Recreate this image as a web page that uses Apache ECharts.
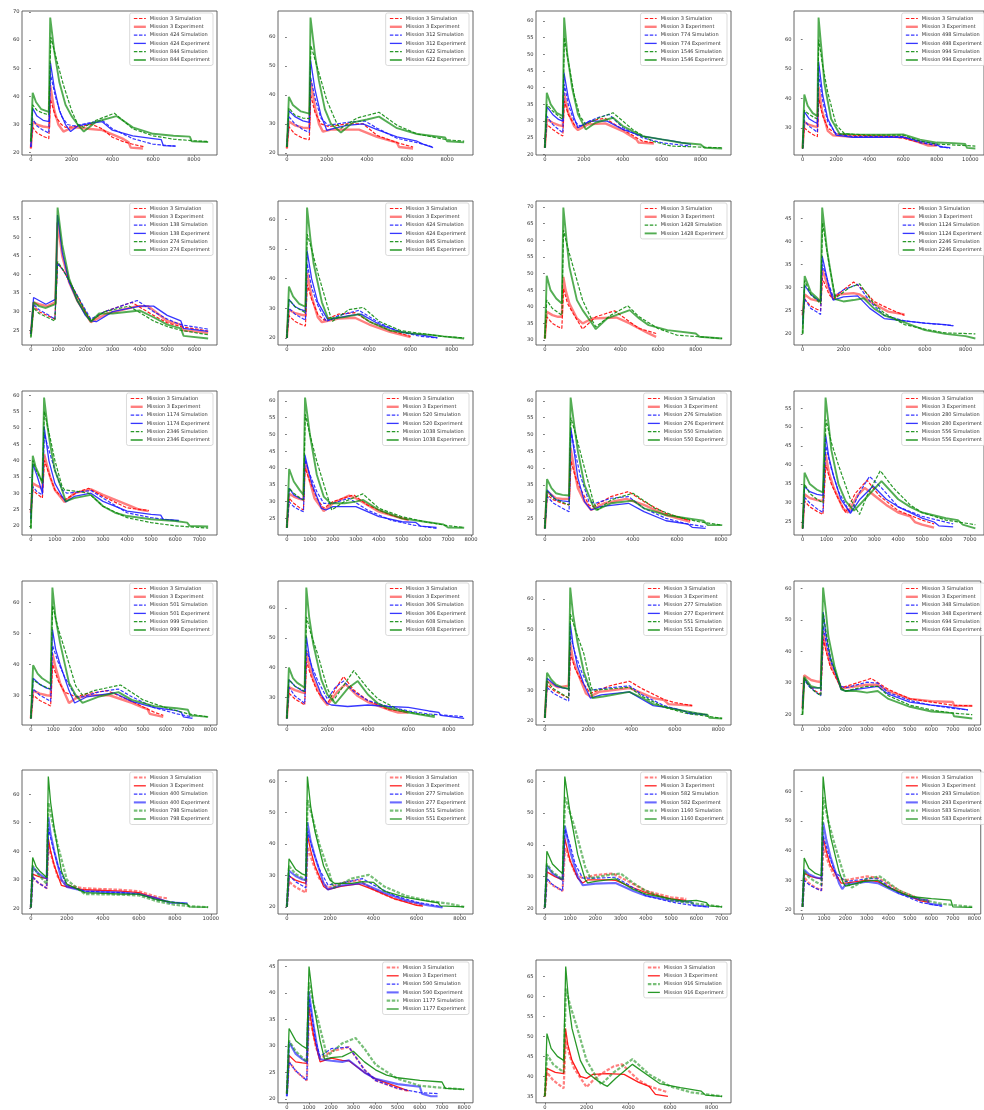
<!DOCTYPE html>
<html>
<head>
<meta charset="utf-8">
<script src="https://cdn.jsdelivr.net/npm/echarts@6/dist/echarts.min.js"></script>
<style>
  html, body { margin: 0; padding: 0; background: #fff; }
  #chart { width: 984px; height: 1110px; }
</style>
</head>
<body>
<div id="chart"></div>
<script>
// ---- Panel 1: missions 3 / 424 / 844 ----
const p01Missions = ['3', '424', '844'];
const p01X = [0, 2000, 4000, 6000, 8000];
const p01Y = [20, 30, 40, 50, 60, 70];
const p01m3s = [[0,21.5],[90,29],[300,27],[600,25.8],[880,25],[960,39],[1200,33],[1500,30],[1700,29],[2500,29.5],[3000,30],[3500,28.5],[4000,25.5],[4500,24],[5000,23],[5600,22]];
const p01m3e = [[0,21.5],[90,31],[300,30],[600,29.3],[900,29],[950,44],[1150,35],[1350,30],[1600,27.5],[1900,28.5],[2200,29],[2800,28.5],[3500,28],[4000,26.5],[4500,25],[4800,23.7],[4900,21.8],[5500,21.5]];
const p01xs = [[0,22],[90,32],[300,29.5],[600,28],[880,27],[960,48],[1200,40],[1500,33],[1800,30],[2100,29.5],[2800,30.5],[3500,31.5],[4000,28.5],[5000,25],[6000,23],[7100,22.3]];
const p01xe = [[0,22],[90,35.8],[300,33],[600,31.5],[900,31],[960,52],[1150,43],[1400,35],[1700,30],[1950,27.5],[2300,29.5],[3000,30.5],[3500,31],[4000,28],[5000,26],[6000,25],[6400,24.6],[6500,22.5],[7100,22.3]];
const p01ys = [[0,24],[90,37],[300,35],[600,34],[880,33.5],[980,61],[1300,52],[1600,44],[2000,35],[2300,30],[2600,29],[3200,31.5],[4100,34],[5000,28.5],[6000,26],[7000,24.8],[8000,24.2],[8700,24]];
const p01ye = [[0,24],[90,41.3],[250,38],[500,35.5],[880,34.5],[950,68],[1150,56],[1400,45],[1700,37],[2000,33],[2300,30],[2600,27.5],[3200,31],[4200,33],[5000,29],[6000,26.7],[7000,26],[7800,25.7],[7900,24],[8700,23.8]];

// ---- Panel 2: missions 3 / 312 / 622 ----
const p02Missions = ['3', '312', '622'];
const p02X = [0, 2000, 4000, 6000, 8000];
const p02Y = [20, 30, 40, 50, 60];
const p02m3s = [[0,21.5],[100,29],[400,26.5],[800,25],[1120,24.5],[1190,40],[1400,34],[1700,30],[2100,29],[3000,30],[3800,30],[4500,26],[5500,23.5],[6300,22]];
const p02m3e = [[0,21.5],[100,30.8],[400,29.5],[800,28.7],[1120,28.5],[1180,45],[1400,36],[1600,30],[1800,27.3],[2200,28],[3000,28],[3600,28],[4500,25.5],[5500,23.5],[5600,22],[6300,21.5]];
const p02xs = [[0,22],[100,32.5],[400,30],[800,28],[1120,27],[1190,46],[1400,39],[1700,32],[2050,29.5],[3000,30.5],[3900,31],[4500,28.5],[5500,25],[6500,23.5],[7300,22]];
const p02xe = [[0,22],[100,34.5],[400,32.5],[800,31],[1120,30.5],[1180,52],[1400,42],[1700,33],[2000,27.7],[2400,28.5],[3000,29.5],[3800,30],[4500,28],[5500,25.5],[6500,24],[6800,23],[7300,21.8]];
const p02ys = [[0,22],[100,35.5],[400,33],[800,32],[1120,31.8],[1200,57],[1500,50],[2000,38],[2500,30],[2700,28.5],[3500,32],[4600,34],[5500,29.5],[6500,26.5],[8000,24.5],[8850,24]];
const p02ye = [[0,22],[100,39.3],[300,36.5],[700,34.3],[1120,33.5],[1180,66.7],[1400,54],[1600,45],[1900,35],[2200,30],[2700,27],[3300,30.5],[4000,31.5],[4600,32.5],[5500,28.5],[6500,26.5],[7900,25.3],[8000,24],[8850,23.6]];

// ---- Panel 3: missions 3 / 774 / 1546 ----
const p03Missions = ['3', '774', '1546'];
const p03X = [0, 2000, 4000, 6000, 8000];
const p03Y = [20, 25, 30, 35, 40, 45, 50, 55, 60];
const p03m3s = [[0,22],[100,29],[400,27.5],[700,26.3],[920,25.5],[1000,36],[1200,32],[1500,29],[1700,28],[2200,29.5],[2700,30.5],[3100,30.8],[4000,27.5],[5000,24],[5600,23.5]];
const p03m3e = [[0,22],[100,30.5],[400,29.5],[700,28.8],[920,28.5],[980,38.5],[1200,32.5],[1500,28.5],[1700,27.3],[2200,29],[3100,29.3],[4000,27],[4700,24.5],[4800,23.6],[5600,23.3]];
const p03xs = [[0,22],[100,31.5],[400,29],[700,27.5],[920,26.5],[1000,41],[1200,35],[1500,30],[1800,28.5],[2300,30],[2700,31],[3300,32],[4000,28],[5000,25],[6000,23.5],[7500,22.5]];
const p03xe = [[0,22],[100,34.3],[400,32],[700,30.5],[920,30],[980,44.5],[1200,37],[1500,31],[1700,28],[2300,30],[3200,30],[4000,27.5],[5000,25.5],[6000,24.5],[6600,24],[7500,23]];
const p03ys = [[0,22],[100,35],[400,33],[700,31.5],[920,30.5],[1000,55],[1200,48],[1500,38],[1800,31.5],[2100,29],[2800,31],[3500,32.5],[4500,27.5],[5500,24],[6500,22.5],[9100,22]];
const p03ye = [[0,22],[100,38.5],[300,35],[600,32.5],[920,31.5],[990,61],[1150,50],[1400,40],[1700,32],[2100,27.5],[2600,29.5],[3500,31],[4000,28.5],[5000,25.5],[6000,24.5],[7000,23.5],[8000,23],[8200,22],[9100,21.8]];

// ---- Panel 4: missions 3 / 498 / 994 ----
const p04Missions = ['3', '498', '994'];
const p04X = [0, 2000, 4000, 6000, 8000, 10000];
const p04Y = [30, 40, 50, 60];
const p04m3s = [[0,23],[100,30],[400,28.5],[700,27.5],[880,27],[960,40],[1200,34],[1500,30],[2000,28],[3000,27.5],[5000,27.2],[6000,26.5],[7000,25],[8000,24]];
const p04m3e = [[0,23],[100,32],[400,31],[700,30.5],[880,30.3],[950,44],[1150,36],[1500,29],[1800,27.5],[3000,27],[5500,27],[6000,26.8],[7000,25],[7500,24],[8000,24]];
const p04xs = [[0,23],[100,32.5],[400,30.5],[700,29.3],[880,28.5],[960,48],[1200,39],[1500,32],[2000,28],[3000,27],[6000,27],[7000,25],[8000,24],[8800,23]];
const p04xe = [[0,23],[100,35.5],[400,33],[700,32],[880,31.5],[950,52.5],[1200,41],[1500,33],[2000,27.5],[3000,26.8],[6000,26.8],[7000,25.5],[8000,24.5],[8200,23.5],[8800,23.3]];
const p04ys = [[0,23],[100,36],[400,34.5],[700,33.5],[880,33],[960,60],[1200,51],[1500,42],[2000,31],[2500,28],[4000,27.5],[6000,27.5],[7000,25.5],[8000,24.5],[10300,23.8]];
const p04ye = [[0,23],[100,41.3],[300,37.5],[600,35],[880,34],[950,67.5],[1150,55],[1300,45],[1700,33],[2200,28],[3000,27.8],[5000,27.7],[6000,27.8],[7000,26],[8000,25],[9000,24.8],[9700,24.5],[9800,23.2],[10300,23]];

// ---- Panel 5: missions 3 / 138 / 274 ----
const p05Missions = ['3', '138', '274'];
const p05X = [0, 1000, 2000, 3000, 4000, 5000, 6000];
const p05Y = [25, 30, 35, 40, 45, 50, 55];
const p05m3s = [[0,24],[100,31.5],[300,30],[600,29],[880,28],[980,43],[1200,41],[1500,37],[2000,30],[2200,27.5],[2700,30],[3700,32.5],[4500,29],[5000,27],[5500,26],[6500,24.8]];
const p05m3e = [[0,24],[100,32.5],[300,32],[600,31.5],[900,32.5],[980,54],[1150,45],[1400,38],[1700,33],[2000,29.5],[2200,27.2],[2800,29.5],[3900,31.5],[4300,31.5],[5000,27.5],[5500,26.5],[5600,25],[6500,24.3]];
const p05xs = [[0,24],[100,32],[300,30.5],[600,29.3],[880,28],[980,43],[1200,41],[1500,37],[2000,30.5],[2200,28],[2700,30],[3900,33],[4500,30],[5000,28],[5500,26.5],[6500,25.3]];
const p05xe = [[0,24],[100,33.8],[300,33],[550,32],[900,33.3],[980,56],[1150,46],[1400,38],[1700,33],[2000,29],[2200,27.5],[2400,27.3],[3000,30],[4000,31.5],[4500,31.5],[5000,29],[5500,27.5],[5600,25.5],[6500,24.7]];
const p05ys = [[0,23],[100,31],[300,29.5],[600,28.5],[880,27.5],[980,43.5],[1200,41],[1500,37],[2000,30],[2200,27.5],[2700,30],[3600,31.5],[4500,27.5],[5000,26],[5500,25],[6500,23.8]];
const p05ye = [[0,23.3],[100,32.5],[300,31.5],[550,31],[900,32],[980,58],[1150,48],[1400,39],[1700,33],[2000,29.5],[2200,27.3],[2500,29.5],[3000,29.5],[4000,30.3],[4500,28.5],[5000,26.5],[5500,25.5],[5600,23.5],[6500,22.8]];

// ---- Panel 6: missions 3 / 424 / 845 ----
const p06Missions = ['3', '424', '845'];
const p06X = [0, 2000, 4000, 6000, 8000];
const p06Y = [20, 30, 40, 50, 60];
const p06m3s = [[0,20],[100,27.5],[400,25.5],[700,24.5],[900,24],[990,38],[1200,33],[1500,28],[1800,26],[2500,28],[3300,28.5],[4000,25.5],[5000,22.5],[6000,20.5]];
const p06m3e = [[0,20],[100,29.5],[400,28.3],[700,27.8],[900,27.5],[980,42],[1200,34],[1500,27],[1700,25.3],[2500,26.5],[3300,26.8],[4000,24.5],[5000,22],[6000,20.3]];
const p06xs = [[0,20],[100,30],[400,28],[700,26.8],[900,26],[990,45],[1200,37],[1500,31],[1900,25.5],[2500,27.5],[3500,29.3],[4500,25],[5500,22],[6500,20.5],[7300,20]];
const p06xe = [[0,20],[100,33],[400,30.5],[700,29.5],[900,29],[980,49.5],[1200,40],[1500,32],[2000,26],[2300,26.5],[3000,27.5],[3600,28],[4500,24.5],[5500,22],[6500,21],[7300,20]];
const p06ys = [[0,20],[100,33],[400,30.5],[700,29.3],[900,28.5],[990,55],[1200,50],[1500,42],[2000,30],[2200,25.5],[3000,29.5],[3700,30.3],[4500,25.5],[5500,22.5],[6500,21.5],[7500,20.5],[8600,20]];
const p06ye = [[0,20],[100,37.3],[300,34],[600,31.5],[900,30.5],[980,64],[1150,53],[1300,45],[1700,32],[2000,26.5],[2800,27],[3500,28],[4000,25.5],[5000,22.5],[6000,21.5],[7000,21],[7600,20.5],[8600,19.8]];

// ---- Panel 7: missions 3 / 1428 ----
const p07Missions = ['3', '1428'];
const p07X = [0, 2000, 4000, 6000, 8000];
const p07Y = [30, 35, 40, 45, 50, 55, 60, 65, 70];
const p07m3s = [[0,30.5],[100,37],[400,35],[700,34],[900,33.5],[990,45.5],[1200,41],[1500,38],[2000,33.3],[2700,37],[3700,38.8],[4500,35.5],[5000,33.5],[5900,32]];
const p07m3e = [[0,30.5],[100,38.5],[400,37.5],[700,37],[900,37],[980,49],[1100,45],[1300,41],[1700,36.5],[2000,35],[2500,36.5],[3800,36.8],[4500,35],[5000,33.5],[5500,32],[5900,31]];
const p07ys = [[0,30.5],[100,42],[400,39.5],[700,38.3],[900,37.5],[990,63],[1200,58],[1500,52],[2000,42],[2500,36],[2700,34],[3500,37.5],[4400,40.3],[5000,37],[6000,33.5],[7000,31.5],[9400,30.5]];
const p07ye = [[0,30.5],[100,49.3],[300,45],[600,42.5],[900,41],[980,69.8],[1150,60],[1300,52],[1700,42],[2000,39],[2500,35],[2700,33.3],[3300,36.5],[4500,39],[5000,36.5],[5500,34.5],[6500,33],[8000,32],[8200,31],[9400,30.5]];

// ---- Panel 8: missions 3 / 1124 / 2246 ----
const p08Missions = ['3', '1124', '2246'];
const p08X = [0, 2000, 4000, 6000, 8000];
const p08Y = [20, 25, 30, 35, 40, 45];
const p08m3s = [[0,24],[100,27.5],[400,26],[700,25.3],[880,25],[970,32],[1300,28.5],[1500,27.5],[2000,29.5],[2500,31.2],[3000,29.5],[3500,27],[4200,25.5],[5000,24]];
const p08m3e = [[0,24],[100,28.5],[400,27.5],[700,27.2],[880,27],[960,34],[1300,29.5],[1500,27.5],[1700,28.5],[2500,28.8],[2800,28.5],[3500,26.5],[4200,24.8],[5000,24.2]];
const p08xs = [[0,22],[100,27.5],[400,25.5],[700,24.7],[880,24.2],[970,35],[1300,30.5],[1500,28],[2000,29.5],[2700,30.7],[3300,27],[4000,24],[5000,22.8],[6000,22.3],[7400,21.8]];
const p08xe = [[0,22],[100,30.5],[400,28.5],[700,27.5],[880,27],[960,36.8],[1300,30],[1500,27.3],[2000,28],[2700,28.2],[3300,25.5],[4000,23.3],[5000,22.8],[6000,22.3],[7000,22],[7400,21.7]];
const p08ys = [[0,20],[100,31.5],[400,28.5],[700,27.3],[880,26.5],[980,44],[1300,35],[1600,28],[1700,28],[2300,30],[2800,30.8],[3500,26.5],[4000,24.5],[5000,22],[6000,21],[7000,20.2],[8480,20]];
const p08ye = [[0,20],[100,32.5],[400,29],[700,27.8],[880,27],[960,47.3],[1200,38],[1500,30],[1600,27.5],[2000,27],[2500,27.3],[3000,27.7],[3500,25.5],[4000,24],[5000,22.5],[6000,20.8],[7000,20],[8000,19.5],[8480,19]];

// ---- Panel 9: missions 3 / 1174 / 2346 ----
const p09Missions = ['3', '1174', '2346'];
const p09X = [0, 1000, 2000, 3000, 4000, 5000, 6000, 7000];
const p09Y = [20, 25, 30, 35, 40, 45, 50, 55, 60];
const p09m3s = [[0,24],[80,31],[250,29.8],[480,28.5],[560,40],[800,35],[1000,31],[1400,28],[2000,30.5],[2400,31.5],[3000,29],[4000,25.5],[4900,24.7]];
const p09m3e = [[0,24],[80,33],[250,32.3],[480,31.5],[550,42],[800,35],[1000,31],[1400,27.3],[1800,30],[2500,31.2],[3000,29.5],[4000,26.5],[4500,25],[4900,24.5]];
const p09xs = [[0,22],[80,32],[250,30.5],[480,29.5],[560,48],[800,42],[1000,37],[1300,31],[1500,30],[2500,30.8],[3000,28.5],[4000,24],[5000,22.5],[6150,21.5]];
const p09xe = [[0,22],[80,39],[250,35.5],[480,30],[550,50.5],[750,40],[1000,33],[1300,29],[1450,27.3],[1800,29],[2500,30],[3000,27.5],[4000,24.5],[5000,23.5],[5400,23.3],[5500,22],[6150,21.7]];
const p09ys = [[0,19.2],[80,40],[250,36.5],[480,33.5],[560,55],[800,47],[1000,40],[1300,32],[1400,31],[2000,30.5],[2400,30],[3000,26],[4000,22.5],[5000,21],[6000,20],[7370,19.3]];
const p09ye = [[0,19.2],[80,41.5],[200,38],[350,35.5],[480,33],[550,59.3],[700,50],[800,45],[1000,37],[1300,31],[1450,27.5],[1800,28.5],[2500,29.5],[3000,26],[3500,24],[4000,23],[5000,22],[6000,21.5],[6500,21],[6600,20],[7370,19.8]];

// ---- Panel 10: missions 3 / 520 / 1038 ----
const p10Missions = ['3', '520', '1038'];
const p10X = [0, 1000, 2000, 3000, 4000, 5000, 6000, 7000, 8000];
const p10Y = [20, 25, 30, 35, 40, 45, 50, 55, 60];
const p10m3s = [[0,22.2],[100,31],[300,29.5],[550,28.2],[720,27.5],[790,40],[1000,36],[1300,31],[1600,28],[2000,30],[2900,32],[3500,29],[4500,26],[5300,24.5]];
const p10m3e = [[0,22.2],[100,32.3],[300,31.5],[550,30.8],[720,30.5],[780,42],[1000,36],[1200,31],[1600,27.2],[2000,29.5],[2700,31.8],[3000,31],[4000,27],[5000,25],[5300,24.5]];
const p10xs = [[0,22.2],[100,30],[300,28.5],[550,27.5],[720,27],[790,42.5],[1000,38],[1300,33],[1600,29.5],[2000,29.5],[2700,31],[3500,27.5],[4500,24.5],[5500,23],[6500,22]];
const p10xe = [[0,22.2],[100,34],[300,32],[550,31],[720,30.5],[780,44],[950,39],[1100,35],[1500,28],[1700,27.5],[2000,28.5],[3000,28.5],[3500,27],[4000,25.5],[5000,24],[5600,23.8],[5800,22.7],[6500,22.3]];
const p10ys = [[0,22.2],[100,34],[300,32.5],[550,31.2],[720,30.5],[800,56],[1000,50],[1300,42],[1700,33],[1950,27.5],[2500,30],[3300,32.3],[4000,28],[5000,25.5],[6000,24],[7000,22.8],[7700,22.3]];
const p10ye = [[0,22.2],[100,39.7],[300,36],[550,33.5],[720,32],[790,61],[1000,50],[1300,38],[1600,31.5],[1900,29.5],[2500,29.5],[3000,30],[3300,30.5],[4000,27.5],[5000,25],[6000,24],[6800,23.2],[7000,22.3],[7700,22.2]];

// ---- Panel 11: missions 3 / 276 / 550 ----
const p11Missions = ['3', '276', '550'];
const p11X = [0, 2000, 4000, 6000, 8000];
const p11Y = [20, 25, 30, 35, 40, 45, 50, 55, 60];
const p11m3s = [[0,22],[100,32],[400,30.5],[800,29.5],[1100,29],[1190,42],[1400,37],[1600,34],[2000,29],[2200,28.5],[3000,31.5],[3800,33],[4500,30],[5500,26.5],[6600,24.3]];
const p11m3e = [[0,22],[100,33],[500,31],[800,30.8],[1100,30.8],[1170,46],[1350,39],[1500,34],[1800,30],[2100,27.5],[2700,29.5],[3700,30.8],[4500,29],[5500,26],[6600,24]];
const p11xs = [[0,22],[100,31.5],[400,29.5],[800,28],[1100,27],[1190,51],[1400,44],[1600,38],[2000,30],[2300,29.5],[3000,31],[3800,31.5],[4500,28],[5500,25],[6500,23.3],[7300,22.5]];
const p11xe = [[0,22],[100,33.5],[500,30.5],[800,30.2],[1100,30],[1180,52],[1350,44],[1500,37],[1800,30],[2100,27.5],[2500,28.5],[3800,29.5],[4500,27],[5500,24.3],[6500,23.3],[6700,22.3],[7300,22]];
const p11ys = [[0,22],[100,33],[400,31],[800,29.8],[1100,29],[1180,55],[1400,50],[1800,40],[2200,30],[2400,27.5],[3000,30.5],[4000,32.5],[5000,28],[6000,25.5],[7000,24],[8050,23]];
const p11ye = [[0,22],[100,36.7],[300,34],[500,32.5],[800,32],[1100,31.8],[1170,61],[1350,52],[1500,45],[1800,35],[2200,28.5],[2350,27.5],[3000,29.5],[4000,30.3],[4500,28],[5500,26],[6500,25],[7200,24.3],[7400,23],[8050,23]];

// ---- Panel 12: missions 3 / 280 / 556 ----
const p12Missions = ['3', '280', '556'];
const p12X = [0, 1000, 2000, 3000, 4000, 5000, 6000, 7000];
const p12Y = [25, 30, 35, 40, 45, 50, 55];
const p12m3s = [[0,23.3],[80,30.5],[300,29],[600,27.8],[850,27],[970,40],[1200,35],[1500,31],[1800,27.5],[2200,32.5],[2700,36],[3200,32],[4000,28],[5000,25.5],[5500,24.5]];
const p12m3e = [[0,23.3],[80,32.3],[300,31.3],[600,30.8],[850,30.5],[960,43],[1100,38],[1300,34],[1700,28.5],[1900,27.5],[2300,32],[2600,34],[3000,32],[3500,29.5],[4000,27.5],[4500,26.5],[4700,25],[5000,24.3],[5500,23.5]];
const p12xs = [[0,23.3],[80,31.5],[300,30],[600,28.5],[850,27.5],[970,45],[1200,39],[1500,33],[1900,28.5],[2000,27.5],[2400,33],[2800,37],[3300,34],[4000,29],[5000,26.5],[6300,24.5]];
const p12xe = [[0,23.3],[80,34.3],[300,33],[600,32.3],[850,32],[960,48],[1100,42],[1300,37],[1600,31],[2000,27.3],[2400,31],[2950,34.5],[3500,31],[4000,29],[5000,26],[5500,25],[5700,24],[6300,23.7]];
const p12ys = [[0,23.3],[80,35],[300,32.5],[600,31],[850,30],[980,52],[1200,46],[1500,40],[2000,31],[2380,27],[2700,32],[3250,38.5],[3800,34],[4500,29.5],[5000,27.5],[6000,25.5],[7230,24.3]];
const p12ye = [[0,23.3],[80,38],[300,35],[600,33.5],[850,32.8],[960,57.8],[1100,50],[1200,44],[1500,35],[1800,30.5],[2150,28],[2600,31],[3300,35.8],[4000,31],[4500,29],[5000,27.5],[6000,26],[6500,25.5],[6700,24.3],[7230,23.3]];

// ---- Panel 13: missions 3 / 501 / 999 ----
const p13Missions = ['3', '501', '999'];
const p13X = [0, 1000, 2000, 3000, 4000, 5000, 6000, 7000, 8000];
const p13Y = [30, 40, 50, 60];
const p13m3s = [[0,22.5],[100,30],[400,28.3],[700,27.2],[880,26.5],[970,40],[1200,35],[1500,31],[2000,29.5],[2500,30.5],[3400,31.5],[4500,28],[5500,24.5],[5900,23.5]];
const p13m3e = [[0,22.5],[100,31.5],[400,30.5],[700,30],[880,29.8],[960,43.5],[1100,39],[1300,34],[1700,27.5],[2000,29],[2600,30],[3500,30],[4500,27.5],[5000,26],[5200,25.5],[5300,24],[5900,23]];
const p13xs = [[0,22.5],[100,32],[400,30],[700,28.8],[880,28],[970,46],[1200,41],[1500,36],[2000,29.5],[2300,29.5],[3000,31],[3900,32],[4500,29.5],[5500,26],[6500,24],[7200,23]];
const p13xe = [[0,22.5],[100,35.5],[400,33.5],[700,32.3],[880,32],[960,51.3],[1100,45],[1300,40],[1700,31.5],[1950,27.5],[2500,29.5],[3700,30.8],[4500,28],[5500,26],[6500,25],[6700,24.5],[6800,23],[7200,22.5]];
const p13ys = [[0,22.5],[100,35],[400,33.5],[700,32.5],[880,32],[970,59],[1200,52],[1500,45],[2000,33],[2300,30],[2800,31.5],[4000,33.3],[5000,28.5],[6000,26],[7000,24],[7900,23]];
const p13ye = [[0,22.5],[100,39.7],[300,37],[500,35.5],[880,33.7],[960,64.8],[1100,55],[1300,47],[1700,34],[2000,30],[2300,27.5],[3000,29.5],[3900,31],[4500,28.5],[5500,26.5],[6500,25.8],[7000,25.3],[7100,23.5],[7900,23]];

// ---- Panel 14: missions 3 / 306 / 608 ----
const p14Missions = ['3', '306', '608'];
const p14X = [0, 2000, 4000, 6000, 8000];
const p14Y = [30, 40, 50, 60];
const p14m3s = [[0,23],[100,31.5],[400,29.5],[700,28.3],[880,27.5],[970,42],[1200,37],[1500,32],[2000,28],[2500,34],[2800,37],[3300,32.5],[4000,29],[5000,26],[6000,25]];
const p14m3e = [[0,23],[100,33.5],[400,32.5],[700,31.8],[880,31.5],[960,45.5],[1100,41],[1300,36],[1700,30],[2000,27.5],[2500,32],[2900,34.5],[3500,30.5],[4000,28.5],[5000,26],[5500,25],[6000,25]];
const p14xs = [[0,23],[100,33.5],[400,30.5],[700,29],[880,28],[970,46],[1200,41],[1500,36],[2000,29.5],[2400,33.5],[2800,35.5],[3300,32],[4000,29],[5000,27],[6000,25.5],[7000,24.5],[8750,23.6]];
const p14xe = [[0,23],[100,36],[400,33.8],[700,32.5],[880,32],[960,50.5],[1100,44],[1300,38],[1700,31],[2000,28],[2200,27.5],[3000,27],[4000,27.5],[5000,27],[6000,26.7],[7000,25.5],[7500,25],[7600,24],[8750,23]];
const p14ys = [[0,23],[100,36],[400,33.8],[700,32.7],[880,32],[970,57],[1200,51],[1500,45],[2000,33],[2300,29],[2900,35],[3300,39],[4000,33],[4500,29.5],[5500,26],[6500,24.5],[7300,24]];
const p14ye = [[0,23],[100,40],[300,36.5],[500,35],[880,33.3],[960,66.8],[1100,57],[1300,48],[1700,36],[2000,31],[2400,28],[3000,33],[3500,35.5],[4000,31],[4500,28],[5000,26.5],[6000,25],[7300,23.5]];

// ---- Panel 15: missions 3 / 277 / 551 ----
const p15Missions = ['3', '277', '551'];
const p15X = [0, 2000, 4000, 6000, 8000];
const p15Y = [20, 30, 40, 50, 60];
const p15m3s = [[0,21],[100,32],[400,30],[800,28.5],[1100,27.5],[1180,42],[1400,37],[1700,33],[2100,29],[3000,31.5],[3900,33],[4500,30.5],[5500,27],[6000,26],[6800,25]];
const p15m3e = [[0,21],[100,33],[600,31],[900,31.3],[1100,31.5],[1170,45.5],[1300,40],[1500,36],[1900,29],[2100,28],[2500,29.5],[3900,30.8],[4500,29],[5000,27.5],[5500,26.8],[5700,25.5],[6800,25]];
const p15xs = [[0,21],[100,31],[400,29],[800,27.5],[1100,26.5],[1180,48],[1400,42],[1700,36],[2100,30],[2500,30.5],[3900,31.5],[4500,28.5],[5500,25],[6500,23],[7500,22]];
const p15xe = [[0,21],[100,34],[500,31.5],[800,30.8],[1100,30.5],[1170,52],[1300,45],[1500,38],[1800,32],[2100,27.5],[2600,28.5],[3900,29.5],[4500,27],[5000,25],[6000,24],[6500,23],[6600,22.5],[7500,22]];
const p15ys = [[0,21],[100,33],[400,30.5],[800,28.8],[1100,27.5],[1180,55],[1400,50],[1800,42],[2100,32],[2200,30],[3000,30.5],[3900,31],[4500,28],[5500,24.5],[6500,22.5],[7500,21.5],[8180,20.8]];
const p15ye = [[0,21],[100,35.8],[300,33.5],[500,32],[800,31],[1100,30.5],[1170,63.7],[1300,55],[1500,46],[1800,36],[2100,30],[2200,27.5],[2700,28],[3900,29.5],[4500,27.5],[5000,25.5],[6000,23.8],[7000,22.5],[7500,22],[7600,21],[8180,20.8]];

// ---- Panel 16: missions 3 / 348 / 694 ----
const p16Missions = ['3', '348', '694'];
const p16X = [0, 1000, 2000, 3000, 4000, 5000, 6000, 7000, 8000];
const p16Y = [20, 30, 40, 50, 60];
const p16m3s = [[0,22],[80,31.5],[300,29.5],[600,27.5],[850,26.5],[970,44],[1100,40],[1300,35],[1800,28.5],[2500,30],[3200,31.5],[4000,28],[5000,25],[6000,24],[7000,23],[7900,22.8]];
const p16m3e = [[0,22],[80,32.5],[400,31],[700,30.5],[850,30.3],[960,46.5],[1100,41],[1300,36],[1800,28.5],[2000,28.5],[3000,29.5],[3500,29.5],[4000,27.5],[5000,25],[6000,24.3],[7000,24],[7050,22.8],[7900,22.8]];
const p16xs = [[0,22],[80,31],[300,29],[600,27.2],[850,26],[970,48],[1100,43],[1300,37],[1800,29],[2000,28.5],[3000,30.3],[3500,30],[4000,27],[5000,24.5],[6000,23],[7000,22],[7700,21.5]];
const p16xe = [[0,22],[80,31.5],[400,28.5],[700,28.5],[850,28.5],[960,52.5],[1100,45],[1300,38],[1800,28],[2000,27.5],[2500,28],[3000,28.5],[3500,29],[4000,26.5],[5000,24],[6000,23],[6800,22.5],[6850,22],[7700,21.5]];
const p16ys = [[0,20],[80,31.5],[300,29],[600,27.2],[850,26],[970,52],[1100,46],[1300,38],[1800,28.5],[2000,27.5],[3000,29],[3500,29],[4000,26],[5000,23],[6000,21.5],[7000,20.5],[7900,20]];
const p16ye = [[0,20],[80,32],[400,29],[700,28.5],[850,28.5],[960,60.3],[1100,52],[1200,45],[1500,35],[1800,28],[2000,27.5],[2500,27.5],[3000,27],[3500,27.5],[4000,25],[5000,22.5],[6000,21],[7000,20.5],[7050,19.5],[7900,18.8]];

// ---- Panel 17: missions 3 / 400 / 798 ----
const p17Missions = ['3', '400', '798'];
const p17X = [0, 2000, 4000, 6000, 8000, 10000];
const p17Y = [20, 30, 40, 50, 60];
const p17m3s = [[0,20.3],[100,31],[400,29],[700,27.8],[880,27],[980,42],[1200,37],[1500,31],[2000,28],[3000,27],[5000,26.5],[6000,26],[7000,24],[7600,23.5]];
const p17m3e = [[0,20.3],[100,32],[400,31.2],[700,30.7],[880,30.5],[970,44.5],[1100,40],[1300,35],[1700,28],[2000,27.5],[3000,26.5],[5000,26],[6000,25.5],[7000,23.5],[7500,22.5]];
const p17xs = [[0,20.3],[100,31],[400,29],[700,27.8],[880,27],[980,48],[1200,42],[1500,35],[2000,28],[3000,26],[5000,25.5],[6000,25],[7000,23],[8700,21.5]];
const p17xe = [[0,20.3],[100,34.5],[400,32.3],[700,31],[880,30.5],[970,52],[1100,46],[1300,40],[1700,30],[2000,27.5],[3000,26],[5000,25.5],[6000,25],[7000,23.5],[7700,22],[8700,21.8]];
const p17ys = [[0,20.3],[100,35],[400,32],[700,29.8],[880,28.5],[980,57],[1200,50],[1500,42],[2000,30],[2500,27.5],[3000,25],[5000,24.8],[6000,24.5],[7000,22.5],[8000,21.2],[9000,20.7],[9850,20.4]];
const p17ye = [[0,20.3],[100,37.8],[300,34.5],[500,33],[880,30.8],[970,66.2],[1100,57],[1300,48],[1700,33],[2000,28.5],[2500,27],[3000,25.5],[5000,25],[6000,25],[6500,24],[7000,23],[8000,22],[8700,21.5],[8800,20.5],[9850,20.4]];

// ---- Panel 18: missions 3 / 277 / 551 ----
const p18Missions = ['3', '277', '551'];
const p18X = [0, 2000, 4000, 6000, 8000];
const p18Y = [20, 30, 40, 50, 60];
const p18m3s = [[0,20],[100,28],[400,26.3],[700,25.2],[880,24.5],[960,39],[1200,34],[1500,29],[1900,26],[2500,27.5],[3300,28.5],[4000,25.5],[5000,22.5],[6300,20.5]];
const p18m3e = [[0,20],[100,29.8],[400,28.5],[700,27.8],[880,27.5],[950,43],[1100,38],[1300,33],[1700,26.5],[1900,25.5],[2500,26.5],[3300,27.3],[4000,25.5],[5000,22.5],[6000,20.5],[6300,20.2]];
const p18xs = [[0,20],[100,30],[400,28],[700,26.8],[880,26],[960,44],[1200,38],[1500,32],[1900,27],[2500,27.5],[3500,29],[4000,27],[5000,23.5],[6000,21.5],[7200,20]];
const p18xe = [[0,20],[100,31.5],[400,29.8],[700,28.8],[880,28.5],[950,47],[1100,41],[1300,36],[1700,27.5],[1900,25.5],[2500,26.8],[3500,27.5],[4500,24.5],[5500,22],[6500,20.5],[7200,19.8]];
const p18ys = [[0,20],[100,33],[400,30.5],[700,29.3],[880,28.5],[960,54],[1200,48],[1500,40],[2000,30],[2150,26],[3000,29],[3800,30.2],[4500,26.5],[5500,23.5],[6500,22],[7500,21],[8200,20]];
const p18ye = [[0,20],[100,35.3],[400,32],[700,30.5],[880,30],[950,61.5],[1100,52],[1300,44],[1700,33],[2000,28.5],[2200,27.5],[3000,27.5],[3500,28],[4000,27.8],[4500,25],[5500,23],[6500,21.8],[7000,21.3],[7100,20.3],[8200,20]];

// ---- Panel 19: missions 3 / 582 / 1160 ----
const p19Missions = ['3', '582', '1160'];
const p19X = [0, 1000, 2000, 3000, 4000, 5000, 6000, 7000];
const p19Y = [20, 30, 40, 50, 60];
const p19m3s = [[0,20.3],[80,29],[300,27.3],[550,26.2],[700,25.5],[800,39],[1000,35],[1200,31],[1500,29.5],[2000,30.5],[2700,31],[3300,28.5],[4000,25.5],[5000,23.5],[5600,23]];
const p19m3e = [[0,20.3],[80,31.5],[400,30],[700,29],[790,42],[1000,35],[1300,29.5],[1500,28],[1700,29],[2500,29],[2800,28.8],[3500,26.5],[4000,25],[5000,23],[5600,22.5]];
const p19xs = [[0,20.3],[80,29.5],[300,27.5],[550,26.3],[700,25.5],[800,45],[1000,40],[1200,34],[1500,29.5],[2000,29.5],[2800,29.8],[3300,27.5],[4000,24],[5000,22],[6000,20.8],[6500,20.5]];
const p19xe = [[0,20.3],[80,33.5],[300,31],[550,29.7],[700,29],[790,46],[1000,38],[1300,30],[1500,27.3],[2000,27.8],[2800,28],[3500,25.5],[4000,24],[5000,22.5],[5800,22],[5900,21],[6500,20.5]];
const p19ys = [[0,20.3],[80,34],[300,31.5],[550,30],[700,29],[800,55],[1000,50],[1200,45],[1600,33],[1800,29.5],[2500,30.5],[3000,31],[3500,28],[4000,25.5],[5000,22.5],[6000,21.5],[7020,20.5]];
const p19ye = [[0,20.3],[80,38],[300,34],[550,32],[700,31],[790,61.5],[1000,50],[1300,37],[1600,29],[1700,28],[2000,28.5],[2800,29.3],[3500,26],[4000,24.5],[5000,23],[5500,22.3],[6000,22.5],[6400,21.8],[6500,20.8],[7020,20.5]];

// ---- Panel 20: missions 3 / 293 / 583 ----
const p20Missions = ['3', '293', '583'];
const p20X = [0, 1000, 2000, 3000, 4000, 5000, 6000, 7000, 8000];
const p20Y = [20, 30, 40, 50, 60];
const p20m3s = [[0,21],[80,31],[300,29],[600,27.5],[880,26.5],[970,41],[1200,36],[1500,31],[2000,30],[3000,31.3],[3500,30.8],[4500,26.5],[5500,23.5],[5900,23]];
const p20m3e = [[0,21],[80,32.3],[400,31.2],[700,30.7],[880,30.5],[960,44.5],[1100,40],[1300,35],[1800,29],[2000,29],[3000,30],[3500,29.5],[4500,26],[5500,23],[5900,22.5]];
const p20xs = [[0,21],[80,30],[300,28.5],[600,27.3],[880,26.5],[970,45],[1200,39],[1500,33],[2000,29.5],[3000,30.5],[3500,30.5],[4500,25.5],[5500,22.5],[6500,21.2]];
const p20xe = [[0,21],[80,33.5],[300,32],[600,31],[880,30.5],[960,49.5],[1100,44],[1300,38],[1700,29],[1850,27],[2000,28.5],[3000,29.5],[3500,29],[4500,25.5],[5500,23.5],[5800,23.3],[5900,22],[6500,21.5]];
const p20ys = [[0,21],[80,33],[300,31],[600,29.5],[880,28.5],[970,58],[1200,50],[1500,42],[2000,30],[2300,27.5],[3000,30.5],[3600,31.3],[4500,26.5],[5500,23.5],[6500,22],[7900,21]];
const p20ye = [[0,21],[80,37.5],[300,34],[600,32.3],[880,31.5],[960,65],[1100,55],[1300,45],[1700,33],[1900,29],[2000,28],[2200,28.3],[2800,29.5],[3500,30],[4000,27.5],[5000,24.5],[6000,23.8],[6900,23.3],[7000,21],[7900,20.8]];

// ---- Panel 21: missions 3 / 590 / 1177 ----
const p21Missions = ['3', '590', '1177'];
const p21X = [0, 1000, 2000, 3000, 4000, 5000, 6000, 7000, 8000];
const p21Y = [20, 25, 30, 35, 40, 45];
const p21m3s = [[0,21],[100,27],[400,25.3],[700,24.2],[900,23.5],[1000,36],[1300,30],[1500,27.5],[2000,29],[2800,29.8],[3500,25.5],[4000,23.5],[5000,22],[5500,21.5]];
const p21m3e = [[0,21],[100,28.2],[400,27],[700,26.8],[900,26.7],[990,37.5],[1200,32],[1500,27],[2000,27.7],[2500,27.3],[2800,27.2],[3500,25],[4000,23.8],[5000,22.3],[5500,21.5]];
const p21xs = [[0,20.5],[100,27],[400,25.3],[700,24.2],[900,23.5],[1000,39],[1300,31],[1500,28],[2000,29.5],[2800,29.8],[3500,25.5],[4000,23.5],[5000,22],[6000,21.2],[6800,21]];
const p21xe = [[0,20.5],[100,30.7],[400,28.5],[700,27.5],[900,27],[990,40.3],[1200,34],[1400,29],[1500,27.5],[2000,27.2],[2500,27],[2800,27.3],[3500,25],[4000,23.8],[5000,22.8],[6000,22.3],[6100,21],[6500,20.5],[6800,20.5]];
const p21ys = [[0,21],[100,31],[400,29],[700,27.8],[900,27],[1000,42],[1200,38],[1400,35],[1700,30],[1800,28],[2500,30.5],[3100,31.5],[3500,29.5],[4000,26.5],[5000,23.8],[6000,22.5],[7000,22.1],[8000,21.8]];
const p21ye = [[0,21],[100,33.3],[400,31],[700,30],[900,29.5],[1000,45],[1200,38],[1500,31],[1700,27.5],[2000,27.8],[2500,28],[3000,29],[3500,27],[4000,25.5],[4500,24.5],[5000,24],[6000,23.5],[7000,23.2],[7150,22],[8000,21.8]];

// ---- Panel 22: missions 3 / 916 ----
const p22Missions = ['3', '916'];
const p22X = [0, 2000, 4000, 6000, 8000];
const p22Y = [35, 40, 45, 50, 55, 60, 65];
const p22m3s = [[0,35],[100,41],[400,39],[700,37.8],[900,37],[1000,49],[1200,45],[1400,42],[2000,37.3],[2500,40],[3300,42.5],[3700,43],[4500,39],[5000,37.5],[5900,36]];
const p22m3e = [[0,35],[100,42],[500,41],[900,40.7],[990,52],[1100,48],[1300,44],[1700,40],[2000,39.5],[2300,40.5],[3000,40.7],[3800,40.5],[4500,38.5],[5000,37.5],[5300,35.5],[5900,35]];
const p22ys = [[0,35],[100,45.5],[400,43],[700,41.8],[900,41],[1010,62],[1200,58],[1500,53],[2000,44],[2500,39.5],[2700,38],[3300,41],[4200,44.3],[5000,40.5],[6000,37.5],[7000,36],[8500,35]];
const p22ye = [[0,35],[100,50.7],[300,47],[600,45],[900,44],[1000,67.5],[1150,58],[1300,52],[1700,44],[2000,41],[2500,39],[2800,38],[3000,37.5],[3400,39.5],[4200,43],[5000,40],[5500,38.2],[6500,37.2],[7500,36.3],[7700,35.3],[8500,35]];

// Panel list: grid cell [row, col], missions, ticks and curves (sim/exp pairs per mission)
const panels = [
  { cell: [0, 0], missions: p01Missions, xTicks: p01X, yTicks: p01Y, curves: [p01m3s, p01m3e, p01xs, p01xe, p01ys, p01ye] },
  { cell: [0, 1], missions: p02Missions, xTicks: p02X, yTicks: p02Y, curves: [p02m3s, p02m3e, p02xs, p02xe, p02ys, p02ye] },
  { cell: [0, 2], missions: p03Missions, xTicks: p03X, yTicks: p03Y, curves: [p03m3s, p03m3e, p03xs, p03xe, p03ys, p03ye] },
  { cell: [0, 3], missions: p04Missions, xTicks: p04X, yTicks: p04Y, curves: [p04m3s, p04m3e, p04xs, p04xe, p04ys, p04ye] },
  { cell: [1, 0], missions: p05Missions, xTicks: p05X, yTicks: p05Y, curves: [p05m3s, p05m3e, p05xs, p05xe, p05ys, p05ye] },
  { cell: [1, 1], missions: p06Missions, xTicks: p06X, yTicks: p06Y, curves: [p06m3s, p06m3e, p06xs, p06xe, p06ys, p06ye] },
  { cell: [1, 2], missions: p07Missions, xTicks: p07X, yTicks: p07Y, curves: [p07m3s, p07m3e, p07ys, p07ye] },
  { cell: [1, 3], missions: p08Missions, xTicks: p08X, yTicks: p08Y, curves: [p08m3s, p08m3e, p08xs, p08xe, p08ys, p08ye] },
  { cell: [2, 0], missions: p09Missions, xTicks: p09X, yTicks: p09Y, curves: [p09m3s, p09m3e, p09xs, p09xe, p09ys, p09ye] },
  { cell: [2, 1], missions: p10Missions, xTicks: p10X, yTicks: p10Y, curves: [p10m3s, p10m3e, p10xs, p10xe, p10ys, p10ye] },
  { cell: [2, 2], missions: p11Missions, xTicks: p11X, yTicks: p11Y, curves: [p11m3s, p11m3e, p11xs, p11xe, p11ys, p11ye] },
  { cell: [2, 3], missions: p12Missions, xTicks: p12X, yTicks: p12Y, curves: [p12m3s, p12m3e, p12xs, p12xe, p12ys, p12ye] },
  { cell: [3, 0], missions: p13Missions, xTicks: p13X, yTicks: p13Y, curves: [p13m3s, p13m3e, p13xs, p13xe, p13ys, p13ye] },
  { cell: [3, 1], missions: p14Missions, xTicks: p14X, yTicks: p14Y, curves: [p14m3s, p14m3e, p14xs, p14xe, p14ys, p14ye] },
  { cell: [3, 2], missions: p15Missions, xTicks: p15X, yTicks: p15Y, curves: [p15m3s, p15m3e, p15xs, p15xe, p15ys, p15ye] },
  { cell: [3, 3], missions: p16Missions, xTicks: p16X, yTicks: p16Y, curves: [p16m3s, p16m3e, p16xs, p16xe, p16ys, p16ye] },
  { cell: [4, 0], missions: p17Missions, xTicks: p17X, yTicks: p17Y, curves: [p17m3s, p17m3e, p17xs, p17xe, p17ys, p17ye] },
  { cell: [4, 1], missions: p18Missions, xTicks: p18X, yTicks: p18Y, curves: [p18m3s, p18m3e, p18xs, p18xe, p18ys, p18ye] },
  { cell: [4, 2], missions: p19Missions, xTicks: p19X, yTicks: p19Y, curves: [p19m3s, p19m3e, p19xs, p19xe, p19ys, p19ye] },
  { cell: [4, 3], missions: p20Missions, xTicks: p20X, yTicks: p20Y, curves: [p20m3s, p20m3e, p20xs, p20xe, p20ys, p20ye] },
  { cell: [5, 1], missions: p21Missions, xTicks: p21X, yTicks: p21Y, curves: [p21m3s, p21m3e, p21xs, p21xe, p21ys, p21ye] },
  { cell: [5, 2], missions: p22Missions, xTicks: p22X, yTicks: p22Y, curves: [p22m3s, p22m3e, p22ys, p22ye] }
];

// Layout of the 4x6 panel grid
const COL_LEFT = [22, 278, 536, 794];
const ROW_TOP = [11, 201, 391, 581, 770, 960];
const PW = 195, PH = 144;
const FONT = 'DejaVu Sans';
const DASH = [3.5, 1.6];

// Line styles: upper rows draw the experiment of mission 3 as a wide pale line,
// lower rows draw the simulation of mission 3 that way instead.
function lineStyleFor(row, missionIdx, nMissions, isExp) {
  const palette = nMissions === 3 ? ['#ff0000', '#1a1aff', '#0a8a0a'] : ['#ff0000', '#0a8a0a'];
  const color = palette[missionIdx];
  const role = nMissions === 3 ? ['r', 'b', 'g'][missionIdx] : ['r', 'g'][missionIdx];
  let width = 1.2, opacity = 0.88;
  if (row <= 3) {
    if (isExp && role === 'r') { width = 2.4; opacity = 0.5; }
    else if (isExp && role === 'g') { width = 1.9; opacity = 0.7; }
    else if (isExp) { width = 1.3; }
  } else {
    if (!isExp && role === 'r') { width = 2.2; opacity = 0.5; }
    else if (!isExp && role === 'g') { width = 2.2; opacity = 0.55; }
    else if (isExp && role === 'b') { width = 2.1; opacity = 0.65; }
    else if (isExp) { width = 1.3; }
  }
  return { color, width, opacity, type: isExp ? 'solid' : DASH };
}

function paddedExtent(curves, k) {
  let lo = Infinity, hi = -Infinity;
  curves.forEach(c => c.forEach(p => { if (p[k] < lo) lo = p[k]; if (p[k] > hi) hi = p[k]; }));
  const pad = (hi - lo) * 0.05;
  return [lo - pad, hi + pad];
}

const plainNumber = v => String(Math.round(v));

const option = {
  animation: false,
  backgroundColor: '#ffffff',
  textStyle: { fontFamily: FONT },
  grid: [], xAxis: [], yAxis: [], series: [], legend: []
};

panels.forEach((p, i) => {
  const [row, col] = p.cell;
  const left = COL_LEFT[col], top = ROW_TOP[row];
  option.grid.push({
    left, top, width: PW, height: PH, containLabel: false,
    show: true, borderColor: '#555', borderWidth: 0.9, backgroundColor: '#fff'
  });
  const xr = paddedExtent(p.curves, 0);
  const yr = paddedExtent(p.curves, 1);
  const axisCommon = {
    type: 'value', gridIndex: i,
    axisLine: { show: false }, splitLine: { show: false },
  };
  option.xAxis.push(Object.assign({}, axisCommon, {
    min: xr[0], max: xr[1],
    axisTick: { show: true, length: 1.8, lineStyle: { color: '#555', width: 0.8 }, customValues: p.xTicks },
    axisLabel: { customValues: p.xTicks, formatter: plainNumber, fontSize: 5.2, color: '#333', margin: 2.2, fontFamily: FONT }
  }));
  option.yAxis.push(Object.assign({}, axisCommon, {
    min: yr[0], max: yr[1],
    axisTick: { show: true, length: 1.8, lineStyle: { color: '#555', width: 0.8 }, customValues: p.yTicks },
    axisLabel: { customValues: p.yTicks, formatter: plainNumber, fontSize: 5.2, color: '#333', margin: 2.5, fontFamily: FONT }
  }));

  const legendItems = [];
  p.missions.forEach((m, mi) => {
    ['Simulation', 'Experiment'].forEach((kind, ki) => {
      const isExp = ki === 1;
      const name = 'Mission ' + m + ' ' + kind;
      const ls = lineStyleFor(row, mi, p.missions.length, isExp);
      option.series.push({
        type: 'line', name, xAxisIndex: i, yAxisIndex: i,
        data: p.curves[mi * 2 + ki],
        symbol: 'none', showSymbol: false, silent: true,
        clip: true,
        lineStyle: { color: ls.color, width: ls.width, opacity: ls.opacity, type: ls.type },
        itemStyle: { color: ls.color },
        emphasis: { disabled: true }
      });
      legendItems.push({
        name,
        itemStyle: { opacity: 0 },
        lineStyle: { color: ls.color, width: ls.width, opacity: ls.opacity, type: ls.type }
      });
    });
  });
  option.legend.push({
    data: legendItems,
    orient: 'vertical',
    right: 984 - (left + PW) + 4,
    top: top + 2,
    itemWidth: 12, itemHeight: 5.5, itemGap: 2.3,
    padding: [2.5, 3, 2.5, 3],
    backgroundColor: 'rgba(255,255,255,0.85)',
    borderColor: '#cccccc', borderWidth: 0.7, borderRadius: 2,
    selectedMode: false,
    textStyle: { fontSize: 5, color: '#333', fontFamily: FONT, lineHeight: 6, padding: [0, 0, 0, -1] }
  });
});

const chart = echarts.init(document.getElementById('chart'), null, { renderer: 'canvas', width: 984, height: 1110 });
chart.setOption(option);
</script>
</body>
</html>
